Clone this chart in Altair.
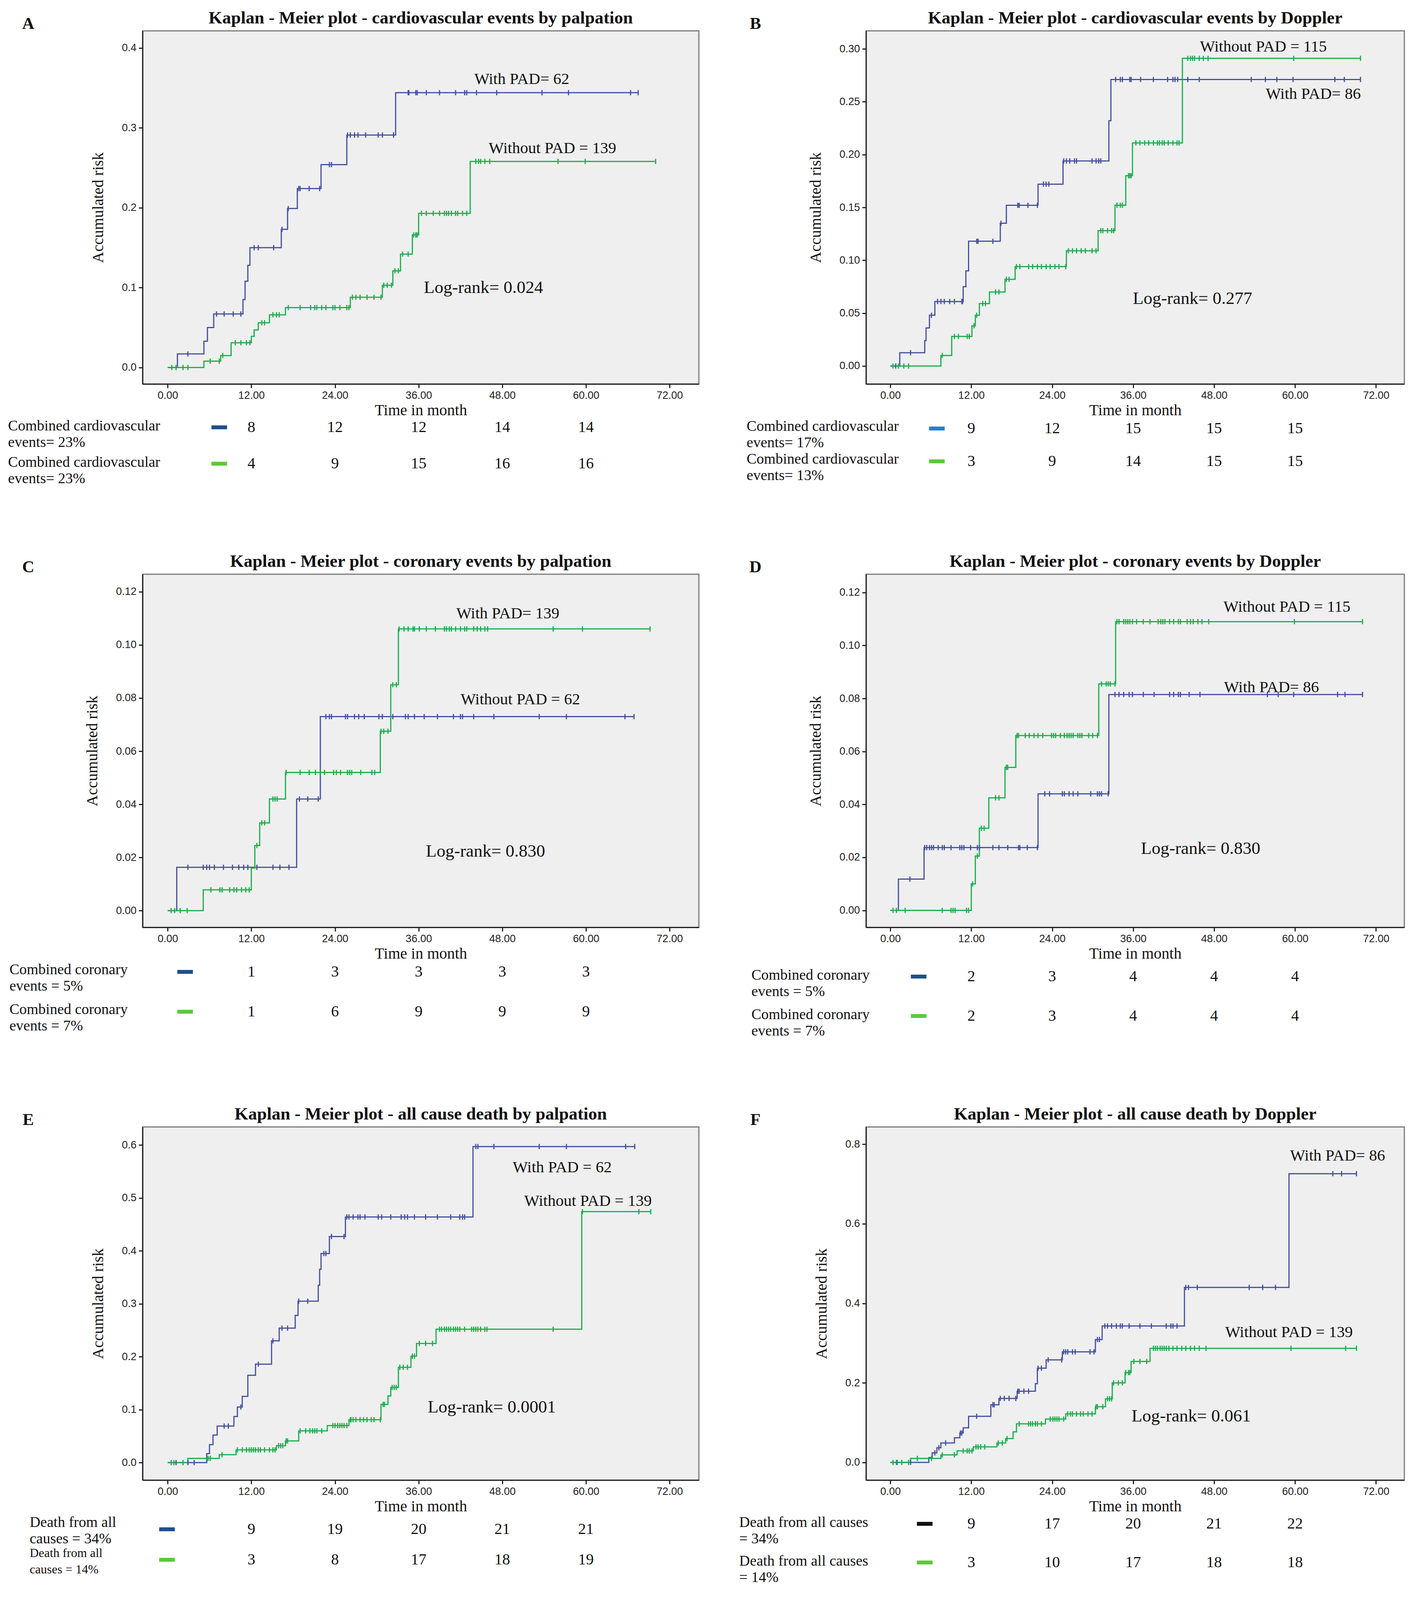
import altair as alt
import pandas as pd

# ---------------- shared style ----------------
BLUE = "#44509f"
GREEN = "#1aae4b"
BAR_BLUE = "#1f4f8f"
BAR_LIGHTBLUE = "#1f80d8"
BAR_BLACK = "#111111"
BAR_GREEN = "#5cc93a"
SERIF = "Liberation Serif"
SANS = "Liberation Sans"

X_DOMAIN = [-3.6, 76.2]
X_TICKS = [0, 12, 24, 36, 48, 60, 72]
COUNT_MONTHS = [12, 24, 36, 48, 60]
H = 904

# ---------------- Panel A ----------------
A_TITLE = "Kaplan - Meier plot - cardiovascular events by palpation"
A_BLUE_T = [1.4, 5.2, 5.7, 6.6, 10.8, 11.1, 11.5, 11.8, 16.3, 17.2, 18.6, 22.0, 25.7, 32.7]
A_BLUE_R = [0.017, 0.033, 0.050, 0.067, 0.085, 0.108, 0.128, 0.150, 0.173, 0.199, 0.224, 0.254, 0.291, 0.344]
A_BLUE_C = [2.9, 7.0, 8.1, 9.4, 10.5, 12.4, 13.0, 15.2, 16.4, 17.3, 18.8, 19.0, 20.3, 21.8, 23.2, 23.5,
            25.8, 26.2, 26.8, 27.3, 28.4, 30.2, 30.8, 32.4, 34.5, 34.6, 35.6, 35.8, 37.1, 39.0, 41.3,
            42.6, 42.9, 44.3, 47.2, 53.7, 57.5, 66.4, 67.5]
A_BLUE_END = 67.5
A_GREEN_T = [5.2, 7.6, 9.1, 12.0, 12.4, 13.0, 14.6, 16.9, 26.2, 30.8, 32.3, 33.4, 35.1, 36.0, 43.4]
A_GREEN_R = [0.008, 0.015, 0.031, 0.039, 0.047, 0.056, 0.066, 0.075, 0.088, 0.103, 0.121, 0.142, 0.166, 0.193, 0.258]
A_GREEN_C = [0.6, 1.2, 2.2, 2.9, 6.1, 7.4, 7.9, 9.7, 10.5, 11.3, 11.8, 13.5, 13.9, 15.1, 15.6, 16.0, 17.3,
             19.0, 20.5, 21.1, 21.4, 22.1, 22.7, 23.7, 24.0, 24.7, 25.7, 26.0, 26.5, 27.0, 27.6, 28.6,
             29.6, 30.6, 31.0, 31.5, 32.1, 32.6, 33.1, 33.7, 34.5, 35.3, 35.6, 35.8, 36.4, 37.1, 38.1,
             39.0, 39.7, 40.0, 40.3, 40.7, 41.3, 41.6, 42.3, 42.9, 44.2, 44.6, 44.9, 45.5, 46.2, 56.0,
             59.9, 70.0]
A_GREEN_END = 70.0
A_Y_TICKS = [0.0, 0.1, 0.2, 0.3, 0.4]
A_NOTES = ["With PAD= 62", "Without PAD = 139"]
A_LOGRANK = "Log-rank= 0.024"
A_ROW_LABELS = ["Combined cardiovascular\nevents= 23%", "Combined cardiovascular\nevents= 23%"]
A_COUNTS_1 = [8, 12, 12, 14, 14]
A_COUNTS_2 = [4, 9, 15, 16, 16]

# ---------------- Panel B ----------------
B_TITLE = "Kaplan - Meier plot - cardiovascular events by Doppler"
B_BLUE_T = [1.4, 5.1, 5.3, 5.8, 6.6, 10.8, 11.2, 11.6, 16.3, 17.2, 21.9, 25.6, 32.4, 32.7]
B_BLUE_R = [0.0126, 0.024, 0.036, 0.048, 0.061, 0.075, 0.090, 0.118, 0.135, 0.152, 0.172, 0.194, 0.232, 0.271]
B_BLUE_C = [0.8, 3.0, 6.1, 7.0, 7.5, 8.0, 8.8, 9.5, 10.6, 10.7, 12.8, 13.0, 15.2, 16.4, 18.9, 19.1, 20.4,
            21.8, 22.7, 23.1, 23.5, 25.7, 26.1, 26.6, 27.3, 27.6, 29.9, 30.5, 30.9, 31.2, 33.4, 34.1,
            34.4, 35.5, 35.7, 37.1, 39.0, 41.1, 41.9, 42.2, 42.6, 44.1, 45.8, 53.5, 55.6, 57.3, 59.7,
            65.9, 67.3, 69.7]
B_BLUE_END = 69.7
B_GREEN_T = [7.5, 9.1, 12.1, 12.6, 13.2, 14.7, 17.0, 18.5, 26.1, 30.8, 33.3, 34.9, 35.9, 43.3]
B_GREEN_R = [0.010, 0.028, 0.038, 0.048, 0.059, 0.070, 0.082, 0.094, 0.109, 0.128, 0.152, 0.180, 0.211, 0.291]
B_GREEN_C = [0.4, 1.2, 2.0, 2.7, 7.7, 9.5, 10.1, 11.4, 11.7, 12.4, 12.8, 13.7, 14.1, 15.6, 16.1, 17.2,
             17.6, 18.7, 19.2, 20.5, 21.1, 21.8, 22.4, 23.1, 23.7, 24.4, 25.0, 26.0, 26.4, 27.0, 27.6,
             28.3, 28.9, 29.9, 30.5, 31.2, 31.5, 32.2, 32.8, 33.1, 33.6, 34.1, 34.4, 35.3, 35.5, 35.7,
             36.4, 37.0, 37.7, 38.3, 39.0, 39.6, 39.9, 40.3, 40.6, 41.2, 41.9, 42.5, 42.8, 44.1, 44.5,
             44.8, 45.1, 45.8, 46.4, 47.1, 59.8, 69.7]
B_GREEN_END = 69.7
B_Y_TICKS = [0.0, 0.05, 0.10, 0.15, 0.20, 0.25, 0.30]
B_NOTES = ["With PAD= 86", "Without PAD = 115"]
B_LOGRANK = "Log-rank= 0.277"
B_ROW_LABELS = ["Combined cardiovascular\nevents= 17%", "Combined cardiovascular\nevents= 13%"]
B_COUNTS_1 = [9, 12, 15, 15, 15]
B_COUNTS_2 = [3, 9, 14, 15, 15]

# ---------------- Panel C ----------------
C_TITLE = "Kaplan - Meier plot - coronary events by palpation"
C_BLUE_T = [1.3, 18.5, 21.9]
C_BLUE_R = [0.0163, 0.042, 0.073]
C_BLUE_C = [2.9, 5.1, 5.6, 6.0, 6.7, 8.0, 9.3, 10.2, 10.9, 11.5, 12.8, 15.1, 16.1, 17.4, 18.9, 20.1,
            21.6, 22.7, 23.2, 23.5, 25.5, 25.8, 26.8, 27.4, 28.2, 30.3, 30.8, 32.3, 34.1, 34.5, 35.4,
            36.8, 38.7, 41.0, 42.0, 42.3, 43.9, 46.8, 53.3, 57.2, 65.6, 66.9]
C_BLUE_END = 66.9
C_GREEN_T = [5.1, 12.0, 12.5, 13.2, 14.6, 16.9, 30.5, 32.0, 33.1]
C_GREEN_R = [0.0078, 0.016, 0.0245, 0.033, 0.042, 0.052, 0.0675, 0.085, 0.106]
C_GREEN_C = [0.5, 1.0, 1.8, 2.8, 6.2, 7.5, 7.8, 8.9, 9.5, 9.9, 10.6, 11.2, 11.7, 12.8, 13.5, 13.9,
             15.1, 15.4, 15.7, 17.0, 19.0, 20.3, 21.2, 21.9, 22.5, 23.8, 24.2, 24.8, 25.8, 26.1, 26.4,
             27.7, 29.3, 29.7, 30.6, 31.0, 31.6, 32.3, 32.8, 33.2, 33.9, 34.5, 35.2, 35.4, 36.1, 37.1,
             38.4, 39.7, 40.0, 40.4, 40.7, 41.3, 42.0, 42.6, 42.9, 43.9, 44.4, 44.9, 45.5, 45.9, 55.3,
             59.5, 69.2]
C_GREEN_END = 69.2
C_Y_TICKS = [0.0, 0.02, 0.04, 0.06, 0.08, 0.10, 0.12]
C_NOTES = ["Without PAD = 62", "With PAD= 139"]
C_LOGRANK = "Log-rank= 0.830"
C_ROW_LABELS = ["Combined coronary\nevents = 5%", "Combined coronary\nevents = 7%"]
C_COUNTS_1 = [1, 3, 3, 3, 3]
C_COUNTS_2 = [1, 6, 9, 9, 9]

# ---------------- Panel D ----------------
D_TITLE = "Kaplan - Meier plot - coronary events by Doppler"
D_BLUE_T = [1.2, 5.0, 21.9, 32.4]
D_BLUE_R = [0.0118, 0.0237, 0.044, 0.0815]
D_BLUE_C = [2.9, 5.1, 5.4, 5.8, 6.1, 6.4, 7.1, 7.7, 8.0, 9.0, 10.3, 10.6, 10.9, 11.9, 12.9, 13.2, 15.2,
            16.1, 17.4, 19.0, 19.2, 20.3, 21.8, 22.9, 23.6, 25.5, 25.8, 26.5, 27.1, 27.8, 29.7, 30.7,
            31.0, 31.3, 32.3, 33.3, 33.9, 34.6, 35.4, 35.9, 37.5, 39.1, 41.4, 42.0, 42.7, 43.0, 44.3,
            45.9, 55.9, 57.5, 59.8, 66.3, 67.4, 70.0]
D_BLUE_END = 70.0
D_GREEN_T = [12.0, 12.6, 13.2, 14.6, 17.0, 18.6, 30.9, 33.4]
D_GREEN_R = [0.010, 0.0205, 0.031, 0.0425, 0.054, 0.066, 0.0855, 0.109]
D_GREEN_C = [0.4, 0.9, 2.2, 7.7, 9.0, 9.3, 9.6, 11.3, 11.6, 12.2, 12.9, 13.5, 13.9, 15.6, 16.1, 17.2,
             17.4, 18.8, 19.0, 20.0, 20.6, 21.3, 21.9, 22.6, 23.9, 24.2, 24.5, 25.2, 25.8, 26.2, 26.5,
             26.8, 27.1, 27.8, 28.1, 28.4, 29.4, 30.0, 30.7, 31.3, 32.0, 32.3, 32.6, 33.3, 33.6, 33.9,
             34.6, 34.9, 35.2, 35.5, 35.9, 36.5, 37.5, 38.5, 39.7, 40.1, 40.4, 40.7, 41.4, 42.0, 42.7,
             43.0, 44.0, 44.5, 44.9, 45.6, 46.2, 47.2, 59.9, 70.0]
D_GREEN_END = 70.0
D_Y_TICKS = [0.0, 0.02, 0.04, 0.06, 0.08, 0.10, 0.12]
D_NOTES = ["With PAD= 86", "Without PAD = 115"]
D_LOGRANK = "Log-rank= 0.830"
D_ROW_LABELS = ["Combined coronary\nevents = 5%", "Combined coronary\nevents = 7%"]
D_COUNTS_1 = [2, 3, 4, 4, 4]
D_COUNTS_2 = [2, 3, 4, 4, 4]

# ---------------- Panel E ----------------
E_TITLE = "Kaplan - Meier plot - all cause death by palpation"
E_BLUE_T = [5.6, 6.0, 6.5, 7.1, 9.5, 10.0, 10.7, 11.5, 12.6, 14.9, 16.0, 18.3, 18.7, 21.6, 21.8, 22.0,
            23.2, 25.5, 43.8]
E_BLUE_R = [0.017, 0.034, 0.052, 0.069, 0.087, 0.105, 0.125, 0.165, 0.186, 0.230, 0.254, 0.278, 0.305,
            0.335, 0.365, 0.395, 0.427, 0.464, 0.597]
E_BLUE_C = [1.2, 2.9, 3.8, 8.1, 8.7, 10.5, 13.0, 15.1, 16.4, 17.2, 18.8, 20.1, 22.4, 22.7, 23.5, 25.3,
            25.7, 26.0, 26.6, 27.3, 27.6, 28.3, 30.2, 30.7, 32.0, 33.5, 34.0, 34.4, 35.4, 37.0, 38.7,
            40.6, 41.9, 42.3, 42.6, 44.2, 44.5, 46.8, 53.3, 57.2, 65.7, 67.0]
E_BLUE_END = 67.0
E_GREEN_T = [2.9, 7.4, 9.8, 15.6, 16.9, 18.8, 22.9, 26.0, 30.6, 31.6, 32.0, 33.1, 34.9, 35.7, 38.5, 59.4]
E_GREEN_R = [0.008, 0.015, 0.024, 0.032, 0.041, 0.060, 0.070, 0.081, 0.110, 0.126, 0.142, 0.180, 0.201,
             0.225, 0.252, 0.474]
E_GREEN_C = [0.5, 0.9, 2.2, 5.8, 6.1, 7.8, 10.0, 10.7, 11.3, 11.7, 12.0, 12.3, 12.6, 13.0, 13.3, 13.9,
             14.6, 15.1, 15.4, 15.9, 16.2, 16.5, 17.0, 17.2, 19.0, 19.8, 20.4, 20.8, 21.1, 21.4, 22.1,
             23.7, 24.0, 24.4, 24.7, 25.0, 25.3, 25.7, 26.2, 26.3, 26.6, 27.0, 27.6, 28.1, 28.6, 29.2,
             29.6, 30.5, 30.9, 31.1, 32.2, 32.5, 32.8, 33.3, 33.8, 34.4, 35.1, 35.4, 36.1, 37.0, 38.0,
             39.0, 39.3, 39.7, 40.0, 40.3, 40.6, 41.0, 41.3, 41.6, 41.9, 42.6, 43.6, 43.9, 44.2, 44.5,
             44.9, 45.5, 45.8, 55.3, 59.5, 67.6, 69.3]
E_GREEN_END = 69.3
E_Y_TICKS = [0.0, 0.1, 0.2, 0.3, 0.4, 0.5, 0.6]
E_NOTES = ["With PAD = 62", "Without PAD = 139"]
E_LOGRANK = "Log-rank= 0.0001"
E_ROW_LABELS = ["Death from all\ncauses = 34%", "Death from all\ncauses = 14%"]
E_COUNTS_1 = [9, 19, 20, 21, 21]
E_COUNTS_2 = [3, 8, 17, 18, 19]

# ---------------- Panel F ----------------
F_TITLE = "Kaplan - Meier plot - all cause death by Doppler"
F_BLUE_T = [5.7, 6.2, 6.9, 7.5, 9.5, 10.3, 10.8, 11.6, 14.9, 16.1, 18.8, 21.5, 21.8, 23.1, 25.5, 30.4,
            31.4, 43.6, 59.1]
F_BLUE_R = [0.012, 0.024, 0.037, 0.049, 0.062, 0.074, 0.087, 0.116, 0.145, 0.161, 0.179, 0.198, 0.237,
            0.258, 0.278, 0.309, 0.343, 0.440, 0.726]
F_BLUE_C = [1.0, 3.0, 6.6, 7.2, 8.2, 10.4, 10.6, 12.8, 15.2, 15.4, 16.3, 16.9, 17.6, 18.6, 18.9, 19.1,
            19.8, 20.5, 21.9, 22.4, 23.4, 25.4, 25.7, 26.0, 26.3, 27.0, 27.4, 29.6, 30.2, 30.7, 31.0,
            31.8, 32.2, 32.8, 33.5, 34.1, 34.4, 35.4, 37.0, 38.7, 40.9, 41.6, 41.9, 42.5, 43.8, 44.2,
            45.5, 53.2, 55.2, 57.1, 65.6, 66.9, 69.1]
F_BLUE_END = 69.1
F_GREEN_T = [3.0, 7.5, 9.9, 12.3, 15.8, 17.1, 18.2, 18.7, 23.0, 26.0, 30.4, 31.9, 32.9, 34.8, 35.7, 38.5]
F_GREEN_R = [0.010, 0.019, 0.029, 0.039, 0.049, 0.060, 0.077, 0.097, 0.109, 0.122, 0.140, 0.160, 0.200,
             0.226, 0.254, 0.287]
F_GREEN_C = [0.4, 0.9, 1.7, 2.7, 4.0, 6.1, 7.7, 9.5, 10.8, 11.4, 11.7, 12.1, 12.7, 13.0, 13.4, 14.0,
             16.0, 16.6, 17.3, 19.1, 20.5, 20.8, 21.1, 21.5, 21.8, 22.4, 23.7, 24.1, 24.4, 24.7, 25.0,
             25.7, 26.3, 26.7, 27.0, 27.6, 28.2, 28.6, 29.3, 29.9, 30.5, 30.7, 31.5, 32.2, 32.5, 32.8,
             33.1, 33.8, 34.4, 34.9, 35.3, 35.5, 36.1, 37.0, 38.0, 39.0, 39.3, 39.6, 40.0, 40.3, 40.6,
             40.9, 41.3, 41.9, 42.5, 43.2, 43.8, 44.5, 45.1, 45.8, 46.8, 59.4, 67.5, 69.1]
F_GREEN_END = 69.2
F_Y_TICKS = [0.0, 0.2, 0.4, 0.6, 0.8]
F_NOTES = ["With PAD= 86", "Without PAD = 139"]
F_LOGRANK = "Log-rank= 0.061"
F_ROW_LABELS = ["Death from all causes\n= 34%", "Death from all causes\n= 14%"]
F_COUNTS_1 = [9, 17, 20, 21, 22]
F_COUNTS_2 = [3, 10, 17, 18, 18]

# ---------------- per-panel layout (positions / styles) ----------------
W_LEFT = 1424
W_RIGHT = 1378
LAYOUT = {
    "A": dict(w=W_LEFT, y_domain=[-0.0206, 0.4214], y_fmt=".1f", note_t=[50.8, 55.2], note_r=[0.361, 0.274],
              log_t=45.3, log_r=0.100, label_t=-22.9, bar_t=7.4, bars=[BAR_BLUE, BAR_GREEN], fs2=38,
              th=137, pad=0.237, label_dy=-3),
    "B": dict(w=W_RIGHT, y_domain=[-0.017, 0.317], y_fmt=".2f", note_t=[62.7, 55.3], note_r=[0.257, 0.302],
              log_t=44.8, log_r=0.064, label_t=-21.3, bar_t=6.9, bars=[BAR_LIGHTBLUE, BAR_GREEN], fs2=38,
              th=116, pad=0.19, label_dy=-5),
    "C": dict(w=W_LEFT, y_domain=[-0.0063, 0.1266], y_fmt=".2f", note_t=[50.6, 48.8], note_r=[0.0794, 0.1117],
              log_t=45.6, log_r=0.0223, label_t=-22.7, bar_t=2.5, bars=[BAR_BLUE, BAR_GREEN], fs2=38,
              th=138, pad=0.176, label_dy=-5),
    "D": dict(w=W_RIGHT, y_domain=[-0.0064, 0.1269], y_fmt=".2f", note_t=[56.5, 58.8], note_r=[0.0842, 0.1145],
              log_t=46.0, log_r=0.0234, label_t=-20.6, bar_t=4.2, bars=[BAR_BLUE, BAR_GREEN], fs2=38,
              th=175, pad=0.366, label_dy=-3),
    "E": dict(w=W_LEFT, y_domain=[-0.033, 0.634], y_fmt=".1f", note_t=[56.6, 60.3], note_r=[0.557, 0.494],
              log_t=46.5, log_r=0.105, label_t=-19.8, bar_t=-0.1, bars=[BAR_BLUE, BAR_GREEN], fs2=32,
              th=100, pad=0.141, label_dy=-17),
    "F": dict(w=W_RIGHT, y_domain=[-0.0444, 0.8436], y_fmt=".1f", note_t=[66.3, 59.1], note_r=[0.771, 0.327],
              log_t=44.6, log_r=0.117, label_t=-22.4, bar_t=5.1, bars=[BAR_BLACK, BAR_GREEN], fs2=38,
              th=141, pad=0.212, label_dy=-3),
}
TITLE_PX = 33    # title centre above the plot frame
LETTER_PX = 18   # panel letter centre above the plot frame
LETTER_T = -20.0

G = globals()


def step_at(times, risks, t):
    r = 0.0
    for ti, ri in zip(times, risks):
        if ti <= t + 1e-9:
            r = ri
    return r


def km_chart(key):
    L = LAYOUT[key]
    line_rows, cens_rows = [], []
    for grp, col in (("With PAD", "BLUE"), ("Without PAD", "GREEN")):
        t = G[f"{key}_{col}_T"]
        r = G[f"{key}_{col}_R"]
        c = G[f"{key}_{col}_C"]
        end = G[f"{key}_{col}_END"]
        line_rows.append({"grp": grp, "t": 0.0, "risk": 0.0})
        for ti, ri in zip(t, r):
            line_rows.append({"grp": grp, "t": ti, "risk": ri})
        line_rows.append({"grp": grp, "t": end, "risk": r[-1]})
        for ci in c:
            cens_rows.append({"grp": grp, "t": ci, "risk": step_at(t, r, ci)})
    line_df = pd.DataFrame(line_rows)
    cens_df = pd.DataFrame(cens_rows)

    y0, y1 = L["y_domain"]
    per_px = (y1 - y0) / H
    note_df = pd.DataFrame({"t": L["note_t"], "risk": L["note_r"], "txt": G[f"{key}_NOTES"]})
    log_df = pd.DataFrame({"t": [L["log_t"]], "risk": [L["log_r"]], "txt": [G[f"{key}_LOGRANK"]]})
    letter_df = pd.DataFrame({"t": [LETTER_T], "risk": [y1 + per_px * LETTER_PX], "txt": [key]})
    title_df = pd.DataFrame({"t": [(X_DOMAIN[0] + X_DOMAIN[1]) / 2], "risk": [y1 + per_px * TITLE_PX],
                             "txt": [G[f"{key}_TITLE"]]})

    xs = alt.Scale(domain=X_DOMAIN, nice=False, zero=False)
    ys = alt.Scale(domain=L["y_domain"], nice=False, zero=False)
    x_enc = alt.X("t:Q", scale=xs, axis=alt.Axis(values=X_TICKS, format=".2f", title="Time in month"))
    y_enc = alt.Y("risk:Q", scale=ys,
                  axis=alt.Axis(values=G[f"{key}_Y_TICKS"], format=L["y_fmt"], title="Accumulated risk"))
    color = alt.Color("grp:N", scale=alt.Scale(domain=["With PAD", "Without PAD"], range=[BLUE, GREEN]),
                      legend=None)

    lines = alt.Chart(line_df).mark_line(interpolate="step-after", strokeWidth=3).encode(
        x=x_enc, y=y_enc, color=color)
    cens = alt.Chart(cens_df).mark_point(shape="M0,-1L0,1", size=180, strokeWidth=3, filled=False,
                                         opacity=1).encode(x=x_enc, y=y_enc, color=color)
    note = alt.Chart(note_df).mark_text(font=SERIF, fontSize=41, color="#111111").encode(
        x=x_enc, y=y_enc, text="txt:N")
    logr = alt.Chart(log_df).mark_text(font=SERIF, fontSize=45, color="#111111").encode(
        x=x_enc, y=y_enc, text="txt:N")
    letter = alt.Chart(letter_df).mark_text(font=SERIF, fontSize=43, fontWeight="bold",
                                            color="#111111").encode(x=x_enc, y=y_enc, text="txt:N")
    title = alt.Chart(title_df).mark_text(font=SERIF, fontSize=45, fontWeight="bold",
                                          color="#111111").encode(x=x_enc, y=y_enc, text="txt:N")

    return alt.layer(lines, cens, note, logr, letter, title).properties(
        width=L["w"], height=H,
        view=alt.ViewBackground(fill="#efefef", stroke="#7a7a7a", strokeWidth=3),
    )


def table_chart(key):
    L = LAYOUT[key]
    rows = ["r1", "r2"]
    labels = G[f"{key}_ROW_LABELS"]
    counts = [G[f"{key}_COUNTS_1"], G[f"{key}_COUNTS_2"]]
    lab_df = pd.DataFrame({"row": rows, "t": [L["label_t"]] * 2, "txt": labels, "fs": [38, L["fs2"]]})
    num_rows = []
    for rw, cs in zip(rows, counts):
        for m, n in zip(COUNT_MONTHS, cs):
            num_rows.append({"row": rw, "t": m, "txt": str(n)})
    num_df = pd.DataFrame(num_rows)
    bar_df = pd.DataFrame({"row": rows, "t": [L["bar_t"]] * 2, "col": L["bars"]})

    xs = alt.Scale(domain=X_DOMAIN, nice=False, zero=False)
    x_enc = alt.X("t:Q", scale=xs, axis=None)
    y_enc = alt.Y("row:N", scale=alt.Scale(type="point", domain=rows, padding=L["pad"]), axis=None)

    lab = alt.Chart(lab_df).mark_text(align="left", baseline="middle", dy=L["label_dy"], lineBreak="\n",
                                      lineHeight=42, font=SERIF, color="#111111").encode(
        x=x_enc, y=y_enc, text="txt:N", size=alt.Size("fs:Q", scale=None))
    num = alt.Chart(num_df).mark_text(align="center", baseline="middle", font=SERIF, fontSize=40,
                                      color="#111111").encode(x=x_enc, y=y_enc, text="txt:N")
    bar = alt.Chart(bar_df).mark_point(shape="M-1,-0.25L1,-0.25L1,0.25L-1,0.25Z", filled=True, size=1600,
                                       opacity=1).encode(x=x_enc, y=y_enc,
                                                         color=alt.Color("col:N", scale=None))
    return alt.layer(lab, bar, num).properties(width=L["w"], height=L["th"])


panels = [alt.vconcat(km_chart(k), table_chart(k), spacing=0) for k in ["A", "B", "C", "D", "E", "F"]]

chart = alt.concat(*panels, columns=2, spacing={"row": 168, "column": 101}).properties(
    padding={"left": 12, "top": 14, "right": 5, "bottom": 0},
    background="white",
).configure_axis(
    domainColor="#222222", domainWidth=3, tickColor="#222222", tickWidth=3, tickSize=10,
    labelFont=SANS, labelFontSize=27, labelColor="#222222", labelPadding=6,
    titleFont=SERIF, titleFontSize=40, titleFontWeight="normal", titleColor="#111111", titlePadding=5,
    grid=False,
).configure_axisY(titlePadding=40).configure_view(strokeWidth=0)

chart.save("out.html", embed_options={"renderer": "svg", "actions": False})
